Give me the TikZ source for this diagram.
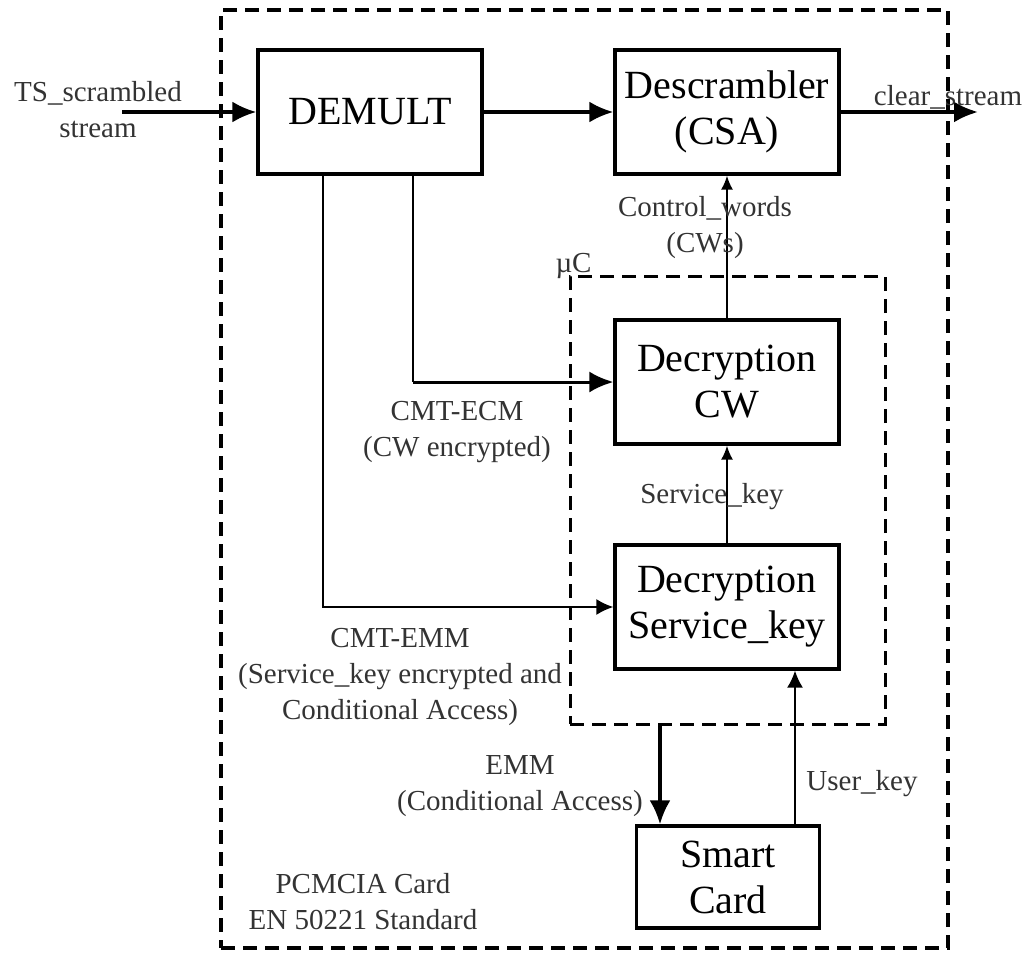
\documentclass[tikz,border=0pt]{standalone}
\usepackage{fontspec}
\setmainfont{Liberation Serif}
\usepackage{tikz}
\usetikzlibrary{arrows.meta}

\tikzset{
    block/.style={draw, line width=3.2pt, minimum width=224pt, minimum height=124pt,
        align=center, font=\fontsize{40}{46}\selectfont},
    lbl/.style={align=center, text=black!80, font=\fontsize{29}{36}\selectfont},
    frame/.style={draw, dash pattern=on 14pt off 8pt, line width=3.6pt},
    flow/.style={line width=3.6pt, -{Latex[length=24pt,width=21pt]}},
    thinflow/.style={line width=2pt, -{Latex[length=17pt,width=16pt]}},
    smallflow/.style={line width=2pt, -{Latex[length=14pt,width=12pt]}}
}

\begin{document}
\begin{tikzpicture}[x=1pt, y=-1pt]
        \useasboundingbox (0,0) rectangle (1028,953);
        % outer card and microcontroller
        \node [frame, minimum width=727pt, minimum height=938pt] (pcmcia) at (584.5,479) {};
        \node [frame, line width=3pt, minimum width=315pt, minimum height=448pt] (uc) at (727.5,500) {};
        \node [lbl, anchor=south west] at (552,282) {µC};

        \node [block] (demult) at (370,112) {DEMULT};
        \node [block] (descr) at (727,112) {Descrambler\\(CSA)};
        \node [block] (deccw) at (727,382) {Decryption\\CW};
        \node [block] (deckey) at (727,607) {Decryption\\Service\_key};
        \node [block, minimum width=183pt, minimum height=102pt] (smart) at (728,877) {Smart\\Card};

        \coordinate (tsin) at (122,112);
        \coordinate (clrout) at (978,112);
        \coordinate (emmx) at (323,0);
        \coordinate (ecmx) at (413,0);
        \coordinate (cax) at (660,0);
        \coordinate (ukx) at (795,0);

        \draw [flow] (tsin) -- (demult);
        \draw [flow] (demult) -- (descr);
        \draw [flow] (descr) -- (clrout);
        \draw [line width=2pt] (demult.south -| ecmx) -- (deccw.west -| ecmx);
        \draw [flow, line width=3pt] (deccw.west -| ecmx) -- (deccw.west);
        \draw [thinflow] (demult.south -| emmx) |- (deckey.west);
        \draw [smallflow] (deccw) -- (descr);
        \draw [smallflow] (deckey) -- (deccw);
        \draw [flow] (uc.south -| cax) -- (smart.north -| cax);
        \draw [thinflow] (smart.north -| ukx) -- (deckey.south -| ukx);

        \node [lbl] at (98,110) {TS\_scrambled\\stream};
        \node [lbl] at (948,97) {clear\_stream};
        \node [lbl] at (705,228) {Control\_words\\(CWs)};
        \node [lbl] at (457,432) {CMT-ECM\\(CW encrypted)};
        \node [lbl] at (712,497) {Service\_key};
        \node [lbl] at (400,677) {CMT-EMM\\(Service\_key encrypted and\\Conditional Access)};
        \node [lbl] at (520,786) {EMM\\(Conditional Access)};
        \node [lbl] at (862,784) {User\_key};
        \node [lbl] at (363,902) {PCMCIA Card\\EN 50221 Standard};
    \end{tikzpicture}
\end{document}
